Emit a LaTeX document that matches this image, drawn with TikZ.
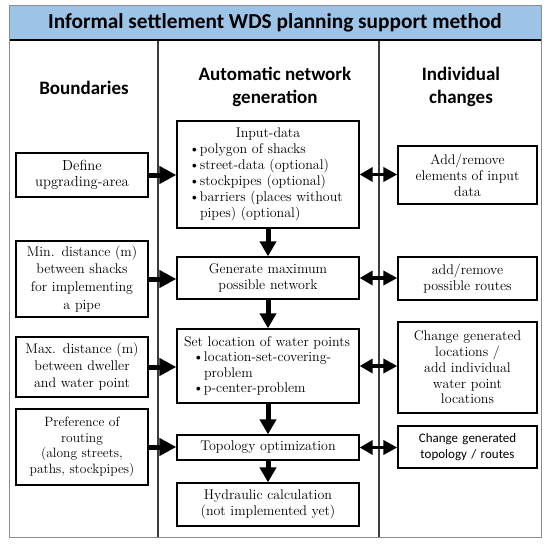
\documentclass[tikz,border=0pt]{standalone}
\usepackage{fontspec}
\newfontfamily\calib{Carlito}
\usetikzlibrary{arrows.meta}
\definecolor{titleblue}{HTML}{9DC3E6}
\definecolor{framegrey}{HTML}{8C8C8C}
\definecolor{divgrey}{HTML}{3C3C3C}
\newcommand{\bl}{\makebox[11pt][l]{\textbullet}}
\newcommand{\ind}{\hspace*{11pt}}
\tikzset{
  box/.style={draw, line width=1.3pt, inner sep=0pt, align=center},
  lbox/.style={box, minimum width=132pt, text width=128pt},
  cbox/.style={box, minimum width=182pt, text width=178pt},
  rbox/.style={box, minimum width=139pt, text width=135pt},
  sarrow/.style={line width=5pt, -{Triangle[length=17pt,width=17pt]}},
  varrow/.style={line width=5pt, -{Triangle[length=15pt,width=16pt]}},
  darrow/.style={line width=3.5pt, {Triangle[length=13pt,width=14pt]}-{Triangle[length=14pt,width=14pt]}},
  head/.style={font=\calib\bfseries\fontsize{19}{23}\selectfont, align=center},
}
\begin{document}
\begin{tikzpicture}[x=1pt,y=-1pt]
\useasboundingbox (0,0) rectangle (550,547);
% frame
\draw[framegrey, line width=1pt] (9.5,5) rectangle (541,537);
\fill[titleblue] (9.5,5) rectangle (541,40);
\draw[framegrey, line width=1pt] (9.5,40) -- (9.5,5) -- (541,5) -- (541,40);
\draw[black, line width=2pt] (9.5,40) -- (541,40);
\draw[divgrey, line width=1.2pt] (158,41) -- (158,537);
\draw[divgrey, line width=1.2pt] (379,41) -- (379,537);
\node[font=\calib\bfseries\fontsize{21.3}{25}\selectfont] (title) at (275,23) {Informal settlement WDS planning support method};
% headers
\node[head] (h1) at (84,87.5) {Boundaries};
\node[head] (h2) at (275,87) {Automatic network\\generation};
\node[head] (h3) at (461,87) {Individual\\changes};
% left boxes
\node[lbox, minimum height=44pt, font=\fontsize{14.6}{15.7}\selectfont] (l1) at (82,175) {Define\\upgrading-area};
\node[lbox, minimum height=76pt, font=\fontsize{14}{17.8}\selectfont] (l2) at (82,279) {Min. distance (m)\\between shacks\\for implementing\\a pipe};
\node[lbox, minimum height=60pt, font=\fontsize{14}{17}\selectfont] (l3) at (82,367) {Max. distance (m)\\between dweller\\and water point};
\node[lbox, minimum height=76pt, font=\fontsize{13.5}{15.7}\selectfont] (l4) at (82,447) {Preference of\\routing\\(along streets,\\paths, stockpipes)};
% center boxes
\node[box, minimum width=182pt, minimum height=107pt, text width=158pt, align=left, font=\fontsize{14}{16}\selectfont] (c1) at (268,174.5)
  {\makebox[158pt]{Input-data}\\\bl polygon of shacks\\\bl street-data (optional)\\\bl stockpipes (optional)\\\bl barriers (places without\\\ind pipes) (optional)};
\node[cbox, minimum height=42pt, font=\fontsize{14}{15.5}\selectfont] (c2) at (268,278) {Generate maximum\\possible network};
\node[box, minimum width=182pt, minimum height=74pt, text width=168pt, align=left, font=\fontsize{14}{15.3}\selectfont] (c3) at (268,366)
  {\mbox{Set location of water points}\\\hspace*{9pt}\bl location-set-covering-\\\hspace*{9pt}\ind problem\\\hspace*{9pt}\bl p-center-problem};
\node[cbox, minimum height=25pt, font=\fontsize{14}{15.5}\selectfont] (c4) at (268,447.5) {Topology optimization};
\node[cbox, minimum height=43pt, font=\fontsize{14}{15.5}\selectfont] (c5) at (268,504.5) {Hydraulic calculation\\(not implemented yet)};
% right boxes
\node[rbox, minimum height=58pt, font=\fontsize{14}{16}\selectfont] (r1) at (467.5,175) {Add/remove\\elements of input\\data};
\node[rbox, minimum height=43pt, font=\fontsize{14}{16}\selectfont] (r2) at (467.5,278.5) {add/remove\\possible routes};
\node[rbox, minimum height=91pt, font=\fontsize{14}{15.8}\selectfont] (r3) at (467.5,367.5) {Change generated\\locations /\\add individual\\water point\\locations};
\node[rbox, minimum height=42pt, font=\calib\fontsize{13}{16}\selectfont] (r4) at (467.5,447) {Change generated\\topology / routes};
% left arrows
\draw[sarrow] (l1.east) -- (l1.east -| c1.west);
\draw[sarrow] (l2.east) -- (l2.east -| c2.west);
\draw[sarrow] (l3.east) -- (l3.east -| c3.west);
\draw[sarrow] (l4.east) -- (l4.east -| c4.west);
% vertical arrows
\draw[varrow] (c1.south) -- (c2.north);
\draw[varrow] (c2.south) -- (c3.north);
\draw[varrow] (c3.south) -- (c4.north);
\draw[varrow] (c4.south) -- (c5.north);
% double arrows
\draw[darrow] (c1.east) -- (c1.east -| r1.west);
\draw[darrow] (c2.east) -- (c2.east -| r2.west);
\draw[darrow] (c3.east) -- (c3.east -| r3.west);
\draw[darrow] (c4.east) -- (c4.east -| r4.west);
\end{tikzpicture}
\end{document}
